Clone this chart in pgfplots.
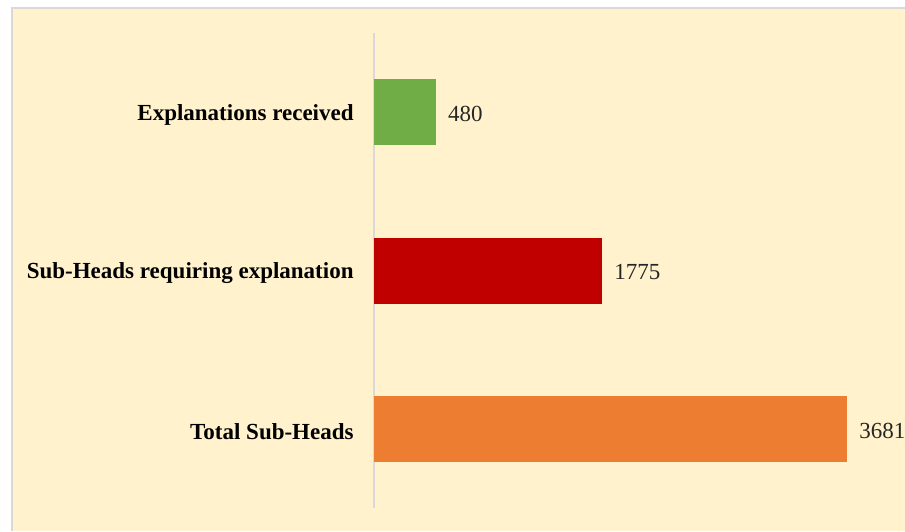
\documentclass[border=0pt]{standalone}
\usepackage{pgfplots}
\pgfplotsset{compat=1.18}
\usepackage{fontspec}
\setmainfont{Liberation Serif}
\definecolor{bg}{HTML}{FFF2CC}
\definecolor{framec}{HTML}{D9D9D9}
\definecolor{cgreen}{HTML}{70AD47}
\definecolor{cred}{HTML}{C00000}
\definecolor{corange}{HTML}{ED7D31}
\definecolor{numc}{HTML}{262626}
\begin{document}
\begin{tikzpicture}
\useasboundingbox (0,0) rectangle (452.5pt,265.5pt);
\fill[white] (0,0) rectangle (452.5pt,265.5pt);
\fill[bg] (6pt,0) rectangle (452.5pt,261.5pt);
\draw[framec, line width=1.4pt] (6pt,0) -- (6pt,261.5pt) -- (452.5pt,261.5pt);
\begin{axis}[
  at={(187pt,11.5pt)}, anchor=south west,
  scale only axis, width=236.5pt, height=237.5pt,
  xmin=0, xmax=3681, ymin=-0.5, ymax=2.5,
  xbar, bar width=33pt, bar shift=0pt,
  axis x line=none, axis y line*=left,
  y axis line style={framec, line width=1pt, -},
  ytick={0,1,2},
  yticklabels={Total Sub-Heads, Sub-Heads requiring explanation, Explanations received},
  yticklabel style={font=\fontsize{11.5}{13}\selectfont\bfseries, text=black, inner sep=0pt, xshift=-10pt, yshift=-1.2pt},
  major tick length=0pt,
  ytick style={draw=none},
  nodes near coords,
  point meta=x,
  nodes near coords style={font=\fontsize{11.5}{13}\selectfont, text=numc, inner sep=0pt, xshift=6pt, yshift=-1pt, anchor=west},
  clip=false,
  /pgf/number format/assume math mode=true,
  /pgf/number format/1000 sep={},
]
\addplot[fill=corange, draw=none] coordinates {(3681,0)};
\addplot[fill=cred, draw=none] coordinates {(1775,1)};
\addplot[fill=cgreen, draw=none] coordinates {(480,2)};
\end{axis}
\end{tikzpicture}
\end{document}
